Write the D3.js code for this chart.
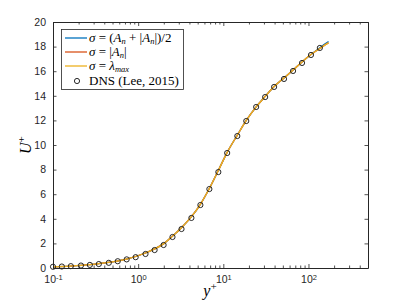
<!DOCTYPE html>
<html>
<head>
<meta charset="utf-8">
<script src="https://cdn.jsdelivr.net/npm/d3@7"></script>
<style>
  body { margin: 0; background: #fff; }
  svg { display: block; }
  .tick text { font-family: "Liberation Sans", Arial, sans-serif; font-size: 10.5px; fill: #262626; }
</style>
</head>
<body>
<svg width="407" height="305"></svg>
<script>
// DNS points (Lee & Moser 2015)
var dnsY = [0.1, 0.127, 0.162, 0.213, 0.271, 0.345, 0.452, 0.576, 0.733, 0.935, 1.22, 1.56, 1.99, 2.53, 3.23,
            4.22, 5.38, 6.86, 8.74, 11.1, 14.6, 18.6, 24.3, 31.0, 39.5, 51.6, 65.9, 84.0, 107, 136];
var dnsU = [0.1, 0.12, 0.15, 0.2, 0.25, 0.32, 0.42, 0.55, 0.7, 0.88, 1.14, 1.46, 1.87, 2.52, 3.17,
            4.07, 5.12, 6.42, 7.8, 9.35, 10.73, 11.95, 13.09, 13.9, 14.72, 15.37, 16.02, 16.67, 17.32, 17.89];

// model profiles (three closures, nearly on top of each other)
var lineY = [0.1, 0.16, 0.27, 0.45, 0.73, 1.2, 1.56, 2.0, 2.5, 3.2, 4.2, 5.4, 6.9, 8.7, 11.1, 14.6, 18.6,
             24.3, 31, 39.5, 51.6, 66, 84, 107, 136, 155, 172];
var uBlue   = [0.1, 0.16, 0.27, 0.45, 0.73, 1.2, 1.55, 1.98, 2.55, 3.25, 4.15, 5.2, 6.5, 7.9, 9.4, 10.8, 12.0,
               13.1, 13.95, 14.75, 15.45, 16.1, 16.75, 17.35, 17.9, 18.2, 18.42];
var uRed    = [0.1, 0.16, 0.27, 0.45, 0.73, 1.2, 1.55, 1.98, 2.55, 3.25, 4.15, 5.2, 6.5, 7.9, 9.4, 10.8, 12.0,
               13.1, 13.95, 14.75, 15.45, 16.1, 16.75, 17.35, 17.85, 18.12, 18.3];
var uYellow = [0.1, 0.16, 0.27, 0.45, 0.73, 1.2, 1.55, 1.98, 2.55, 3.25, 4.15, 5.2, 6.5, 7.9, 9.4, 10.8, 12.0,
               13.1, 13.95, 14.75, 15.45, 16.1, 16.75, 17.35, 17.85, 18.12, 18.3];

var yTicks = [0, 2, 4, 6, 8, 10, 12, 14, 16, 18, 20];
var xMajor = [0.1, 1, 10, 100];
var xMinor = [0.2, 0.3, 0.4, 0.5, 0.6, 0.7, 0.8, 0.9, 2, 3, 4, 5, 6, 7, 8, 9,
              20, 30, 40, 50, 60, 70, 80, 90, 200, 300, 400, 500];

var series = [
  {name: "blue", u: uBlue, color: "#0072BD"},
  {name: "red", u: uRed, color: "#D95319"},
  {name: "yellow", u: uYellow, color: "#EDB120"}
];

// plot box (window.top is reserved, so use other names)
var boxL = 53, boxR = 368, boxT = 22, boxB = 268;
var ink = "#262626";

var xScale = d3.scaleLog().domain([0.1, 500]).range([boxL, boxR]);
var yScale = d3.scaleLinear().domain([0, 20]).range([boxB, boxT]);

var svg = d3.select("svg");

// lines
var line = d3.line()
  .x(function(d) { return xScale(d[0]); })
  .y(function(d) { return yScale(d[1]); })
  .curve(d3.curveMonotoneX);

series.forEach(function(s) {
  svg.append("path")
    .datum(lineY.map(function(y, i) { return [y, s.u[i]]; }))
    .attr("fill", "none")
    .attr("stroke", s.color)
    .attr("stroke-width", 1.3)
    .attr("d", line);
});

// DNS markers
svg.append("g").selectAll("circle")
  .data(dnsY.map(function(y, i) { return [y, dnsU[i]]; }))
  .enter()
  .append("circle")
    .attr("cx", d => xScale(d[0]))
    .attr("cy", d => yScale(d[1]))
    .attr("r", 2.6)
    .attr("fill", "none")
    .attr("stroke", "#111")
    .attr("stroke-width", 0.9);

// axes (ticks point inwards, box on)
function styleAxis(g) {
  g.select(".domain").attr("stroke", ink);
  g.selectAll(".tick line").attr("stroke", ink).attr("stroke-width", 0.8);
}

svg.append("g")
  .attr("transform", `translate(${boxL},0)`)
  .call(d3.axisLeft(yScale).tickValues(yTicks).tickSize(-3.5).tickSizeOuter(0).tickPadding(7).tickFormat(d3.format("d")))
  .call(styleAxis);

svg.append("g")
  .attr("transform", `translate(${boxR},0)`)
  .call(d3.axisRight(yScale).tickValues(yTicks).tickSize(-3.5).tickSizeOuter(0).tickFormat(""))
  .call(styleAxis);

var xBottom = svg.append("g")
  .attr("transform", `translate(0,${boxB})`)
  .call(d3.axisBottom(xScale).tickValues(xMajor).tickSize(-4).tickSizeOuter(0).tickPadding(8).tickFormat(""))
  .call(styleAxis);

xBottom.selectAll(".tick text")
  .each(function(d) {
    var t = d3.select(this);
    t.text("10");
    t.append("tspan")
      .attr("dy", "-0.45em")
      .style("font-size", "7.5px")
      .text(Math.round(Math.log10(d)));
  });

svg.append("g")
  .attr("transform", `translate(0,${boxB})`)
  .call(d3.axisBottom(xScale).tickValues(xMinor).tickSize(-2.5).tickSizeOuter(0).tickFormat(""))
  .call(styleAxis)
  .select(".domain").remove();

svg.append("g")
  .attr("transform", `translate(0,${boxT})`)
  .call(d3.axisTop(xScale).tickValues(xMajor).tickSize(-4).tickSizeOuter(0).tickFormat(""))
  .call(styleAxis);

svg.append("g")
  .attr("transform", `translate(0,${boxT})`)
  .call(d3.axisTop(xScale).tickValues(xMinor).tickSize(-2.5).tickSizeOuter(0).tickFormat(""))
  .call(styleAxis)
  .select(".domain").remove();

// math-ish text helper: parts = [[text, kind]], kind: "" | "i" | "sub" | "back" | "sup"
var serif = "'Liberation Serif', 'DejaVu Serif', serif";
function mathText(g, x, y, size, parts) {
  var t = g.append("text")
    .attr("x", x).attr("y", y)
    .style("font-family", serif)
    .style("font-size", size + "px")
    .attr("fill", "#000");
  parts.forEach(function(p) {
    var s = t.append("tspan").text(p[0]);
    if (p[1] === "i") s.style("font-style", "italic");
    if (p[1] === "sub") {
      s.style("font-style", "italic").style("font-size", (size * 0.65) + "px").attr("dy", size * 0.18);
    }
    if (p[1] === "sup") {
      s.style("font-size", (size * 0.7) + "px").attr("dy", -size * 0.4);
    }
    if (p[1] === "back") s.attr("dy", -size * 0.18);
  });
  return t;
}

// axis labels
mathText(svg, 210, 296, 16, [["y", "i"], ["+", "sup"]]).attr("text-anchor", "middle");
mathText(svg.append("g").attr("transform", "translate(31,145) rotate(-90)"), 0, 0, 16, [["U", "i"], ["+", "sup"]])
  .attr("text-anchor", "middle");

// legend
var legend = svg.append("g");
legend.append("rect")
  .attr("x", 61.5).attr("y", 29.5)
  .attr("width", 122).attr("height", 60)
  .attr("fill", "#fff")
  .attr("stroke", ink)
  .attr("stroke-width", 0.8);

var rowsY = [38, 52, 66, 81];
series.forEach(function(s, i) {
  legend.append("line")
    .attr("x1", 65).attr("x2", 87)
    .attr("y1", rowsY[i]).attr("y2", rowsY[i])
    .attr("stroke", s.color).attr("stroke-width", 1.3);
});
legend.append("circle")
  .attr("cx", 77).attr("cy", rowsY[3])
  .attr("r", 2.6).attr("fill", "none")
  .attr("stroke", "#111").attr("stroke-width", 0.9);

var fs = 13;
mathText(legend, 89, rowsY[0] + 4, fs, [["σ", "i"], [" = (", ""], ["A", "i"], ["n", "sub"], [" + |", "back"],
  ["A", "i"], ["n", "sub"], ["|)/2", "back"]]);
mathText(legend, 89, rowsY[1] + 4, fs, [["σ", "i"], [" = |", ""], ["A", "i"], ["n", "sub"], ["|", "back"]]);
mathText(legend, 89, rowsY[2] + 4, fs, [["σ", "i"], [" = ", ""], ["λ", "i"], ["max", "sub"]]);
mathText(legend, 89, rowsY[3] + 4, fs, [["DNS (Lee, 2015)", ""]]);
</script>
</body>
</html>
